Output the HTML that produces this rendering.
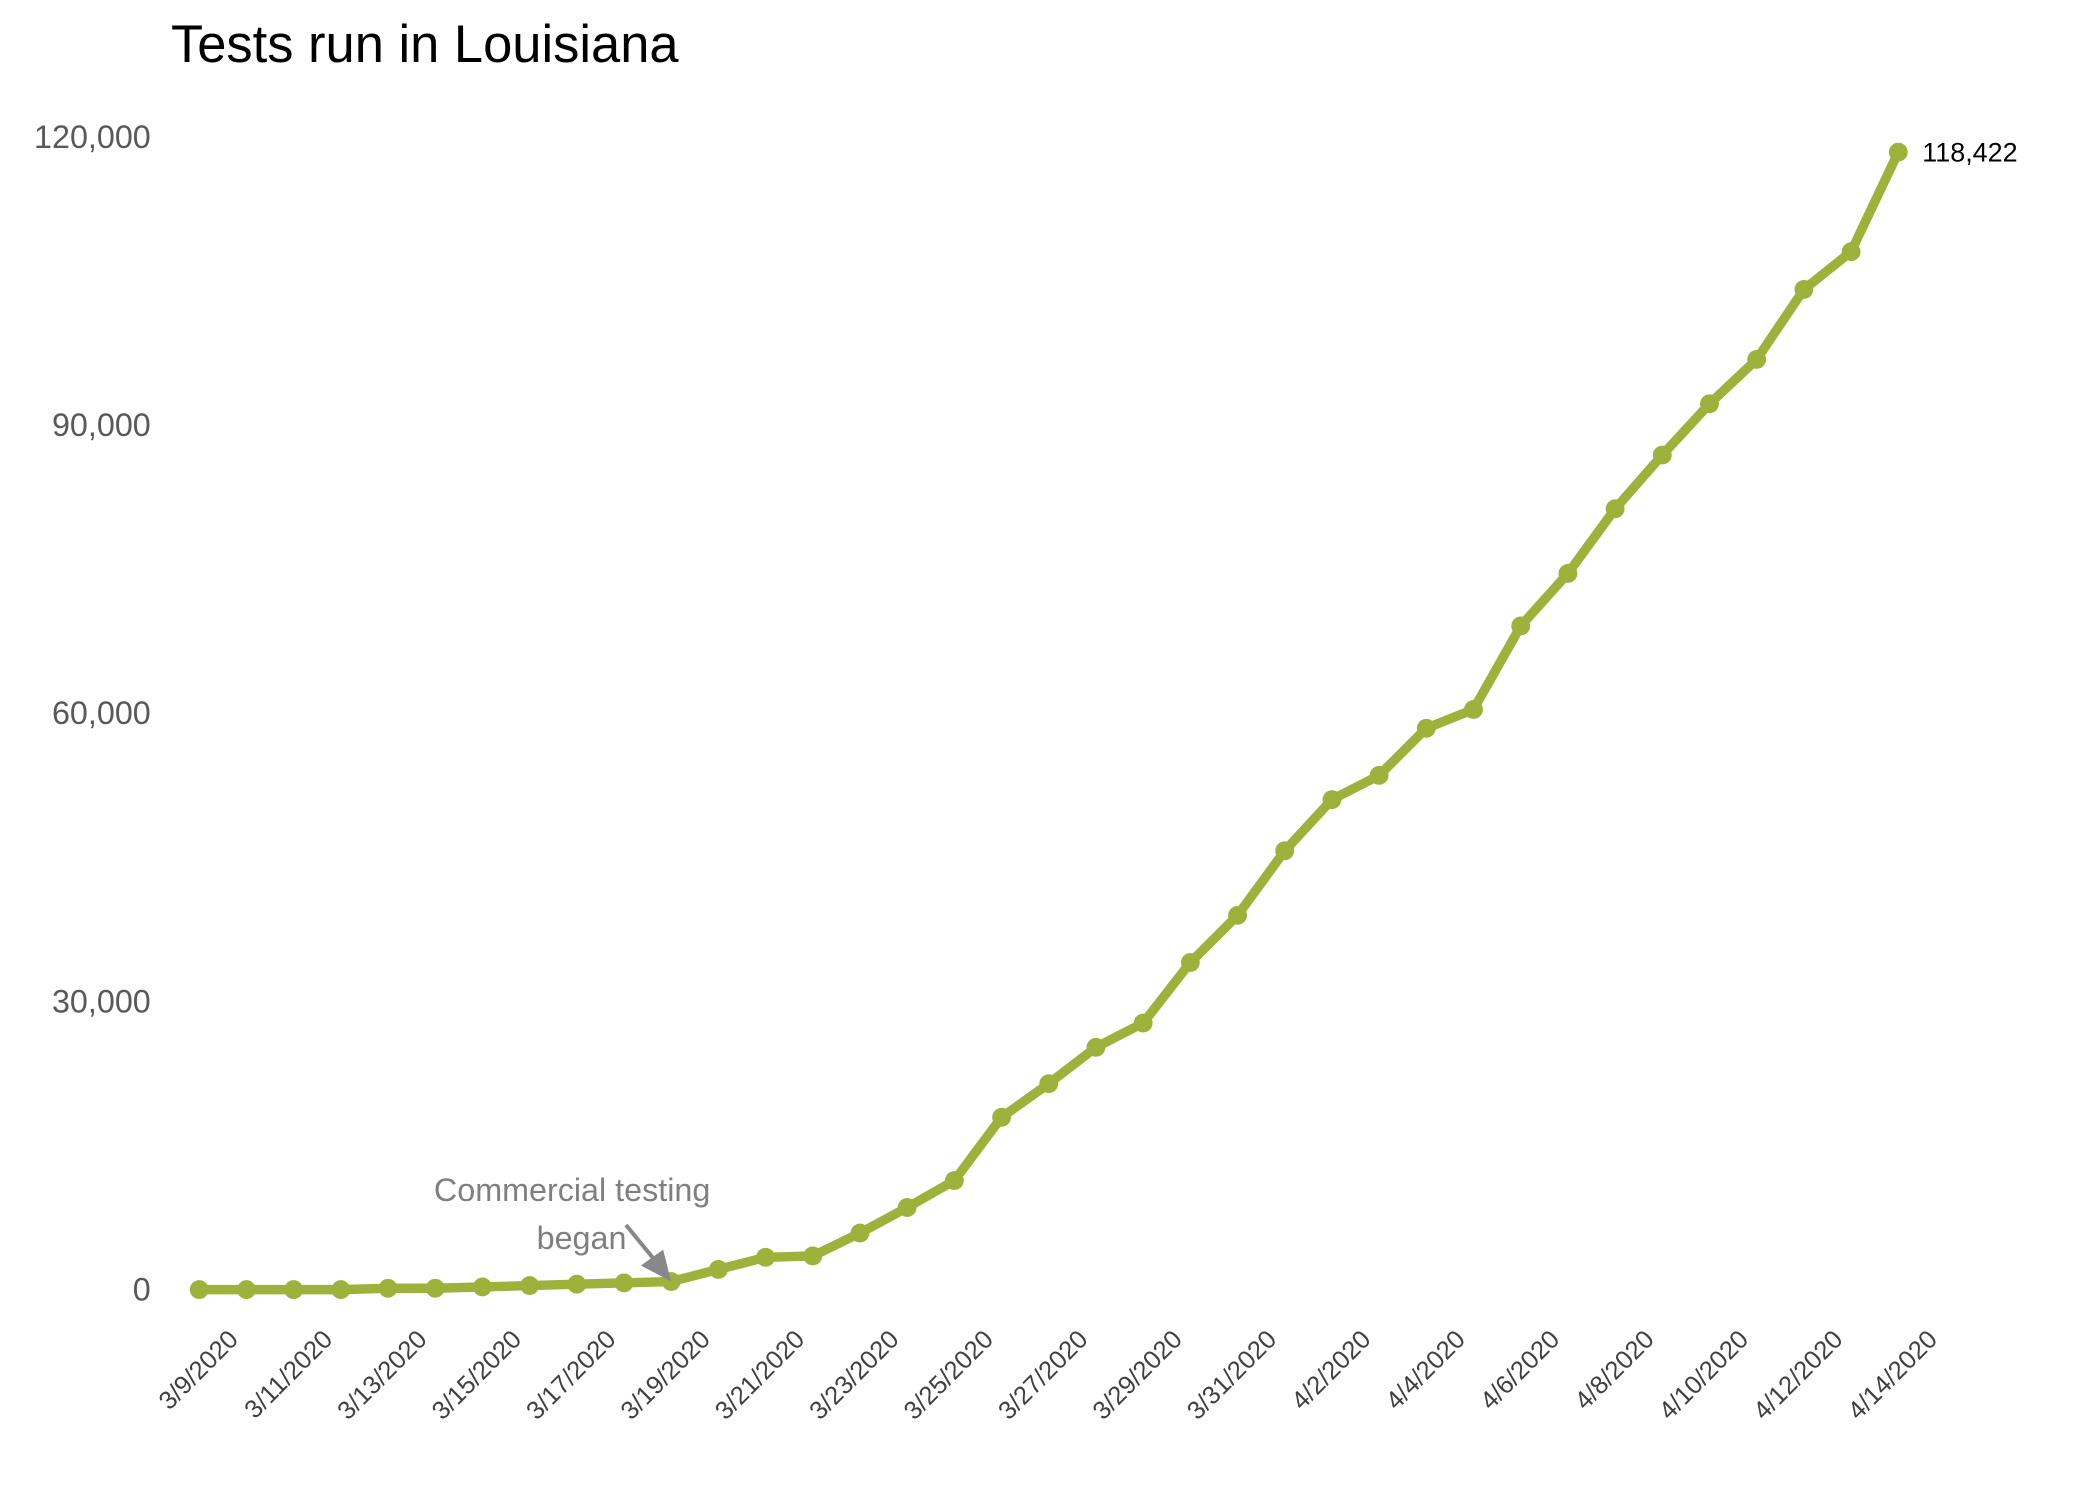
<!DOCTYPE html>
<html><head><meta charset="utf-8"><style>html,body{margin:0;padding:0;background:#fff}svg{display:block}</style></head>
<body>
<svg width="2100" height="1500" viewBox="0 0 1560 1114.29" xmlns="http://www.w3.org/2000/svg" font-family="Liberation Sans, sans-serif">
<text x="127" y="46" font-size="39" fill="#000">Tests run in Louisiana</text>
<g font-size="24" fill="#595959" text-anchor="end">
<text x="112" y="110">120,000</text>
<text x="112" y="324">90,000</text>
<text x="112" y="538">60,000</text>
<text x="112" y="752">30,000</text>
<text x="112" y="966">0</text>
</g>
<g font-size="19" fill="#404040" text-anchor="end">
<text x="178" y="996" transform="rotate(-45 178 996)">3/9/2020</text>
<text x="248.1" y="996" transform="rotate(-45 248.1 996)">3/11/2020</text>
<text x="318.2" y="996" transform="rotate(-45 318.2 996)">3/13/2020</text>
<text x="388.4" y="996" transform="rotate(-45 388.4 996)">3/15/2020</text>
<text x="458.5" y="996" transform="rotate(-45 458.5 996)">3/17/2020</text>
<text x="528.6" y="996" transform="rotate(-45 528.6 996)">3/19/2020</text>
<text x="598.7" y="996" transform="rotate(-45 598.7 996)">3/21/2020</text>
<text x="668.8" y="996" transform="rotate(-45 668.8 996)">3/23/2020</text>
<text x="738.9" y="996" transform="rotate(-45 738.9 996)">3/25/2020</text>
<text x="809.1" y="996" transform="rotate(-45 809.1 996)">3/27/2020</text>
<text x="879.2" y="996" transform="rotate(-45 879.2 996)">3/29/2020</text>
<text x="949.3" y="996" transform="rotate(-45 949.3 996)">3/31/2020</text>
<text x="1019.4" y="996" transform="rotate(-45 1019.4 996)">4/2/2020</text>
<text x="1089.5" y="996" transform="rotate(-45 1089.5 996)">4/4/2020</text>
<text x="1159.6" y="996" transform="rotate(-45 1159.6 996)">4/6/2020</text>
<text x="1229.8" y="996" transform="rotate(-45 1229.8 996)">4/8/2020</text>
<text x="1299.9" y="996" transform="rotate(-45 1299.9 996)">4/10/2020</text>
<text x="1370" y="996" transform="rotate(-45 1370 996)">4/12/2020</text>
<text x="1440.2" y="996" transform="rotate(-45 1440.2 996)">4/14/2020</text>
</g>
<polyline fill="none" stroke="#9db23b" stroke-width="7" stroke-linejoin="round" stroke-linecap="round" points="148,958 183.06,958 218.12,958 253.18,958 288.24,957 323.3,957 358.36,956 393.42,955 428.48,954 463.54,953 498.6,952 533.66,943 568.72,934 603.78,933 638.84,916 673.9,897 708.96,877 744.02,830 779.08,805 814.14,778 849.2,760 884.26,715 919.32,680 954.38,632 989.44,594 1024.5,576 1059.56,541 1094.62,527 1129.68,465 1164.74,426 1199.8,378 1234.86,338 1269.92,300 1304.98,267 1340.04,215 1375.1,187 1410.16,113"/>
<g fill="#9db23b">
<circle cx="148" cy="958" r="7"/><circle cx="183.06" cy="958" r="7"/><circle cx="218.12" cy="958" r="7"/><circle cx="253.18" cy="958" r="7"/><circle cx="288.24" cy="957" r="7"/><circle cx="323.3" cy="957" r="7"/><circle cx="358.36" cy="956" r="7"/><circle cx="393.42" cy="955" r="7"/><circle cx="428.48" cy="954" r="7"/><circle cx="463.54" cy="953" r="7"/><circle cx="498.6" cy="952" r="7"/><circle cx="533.66" cy="943" r="7"/><circle cx="568.72" cy="934" r="7"/><circle cx="603.78" cy="933" r="7"/><circle cx="638.84" cy="916" r="7"/><circle cx="673.9" cy="897" r="7"/><circle cx="708.96" cy="877" r="7"/><circle cx="744.02" cy="830" r="7"/><circle cx="779.08" cy="805" r="7"/><circle cx="814.14" cy="778" r="7"/><circle cx="849.2" cy="760" r="7"/><circle cx="884.26" cy="715" r="7"/><circle cx="919.32" cy="680" r="7"/><circle cx="954.38" cy="632" r="7"/><circle cx="989.44" cy="594" r="7"/><circle cx="1024.5" cy="576" r="7"/><circle cx="1059.56" cy="541" r="7"/><circle cx="1094.62" cy="527" r="7"/><circle cx="1129.68" cy="465" r="7"/><circle cx="1164.74" cy="426" r="7"/><circle cx="1199.8" cy="378" r="7"/><circle cx="1234.86" cy="338" r="7"/><circle cx="1269.92" cy="300" r="7"/><circle cx="1304.98" cy="267" r="7"/><circle cx="1340.04" cy="215" r="7"/><circle cx="1375.1" cy="187" r="7"/><circle cx="1410.16" cy="113" r="7"/>
</g>
<text x="1428" y="120" font-size="20" fill="#000">118,422</text>
<g fill="#7f7f7f" font-size="24" text-anchor="middle">
<text x="425" y="892">Commercial testing</text>
<text x="432" y="928">began</text>
</g>
<line x1="465" y1="910" x2="488" y2="938" stroke="#888" stroke-width="3"/>
<polygon points="478,940 497,950 492,930" fill="#888" stroke="#888" stroke-width="2"/>
</svg>
</body></html>
